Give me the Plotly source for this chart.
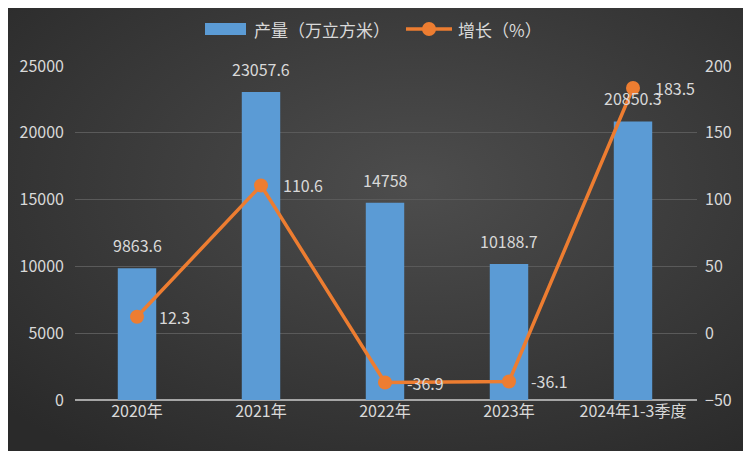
import plotly.graph_objects as go

categories = ["2020年", "2021年", "2022年", "2023年", "2024年1-3季度"]
output_vals = [9863.6, 23057.6, 14758, 10188.7, 20850.3]
growth_vals = [12.3, 110.6, -36.9, -36.1, 183.5]
bar_labels = ["9863.6", "23057.6", "14758", "10188.7", "20850.3"]
growth_labels = ["12.3", "110.6", "-36.9", "-36.1", "183.5"]
bar_name = "产量（万立方米）"
line_name = "增长（%）"

OFF = 8  # page body margin
W, H = 751 - OFF, 451 - OFF
ML, MR, MT, MB = 75 - OFF, 54, 66 - OFF, 51
pw, ph = W - ML - MR, H - MT - MB

def px(x):
    return (x - OFF - ML) / pw

def py(y):
    return 1 - (y - OFF - MT) / ph

txt_color = "#d9d9d9"
font_family = "Noto Sans CJK SC, Noto Sans, sans-serif"
bar_color = "#5b9bd5"
line_color = "#ed7d31"

fig = go.Figure()
fig.add_trace(go.Bar(
    x=categories, y=output_vals, name=bar_name,
    marker=dict(color=bar_color, line=dict(width=0)),
    width=0.31, yaxis="y", showlegend=False,
))
fig.add_trace(go.Scatter(
    x=categories, y=growth_vals, name=line_name, mode="lines+markers",
    line=dict(color=line_color, width=3.5),
    marker=dict(color=line_color, size=14),
    yaxis="y2", showlegend=False,
))

annotations = []
for c, v, t in zip(categories, output_vals, bar_labels):
    annotations.append(dict(x=c, y=v, xref="x", yref="y", text=t, showarrow=False,
                            yanchor="middle", yshift=23,
                            font=dict(size=16, color=txt_color, family=font_family)))
for c, v, t in zip(categories, growth_vals, growth_labels):
    annotations.append(dict(x=c, y=v, xref="x", yref="y2", text=t, showarrow=False,
                            xanchor="left", yanchor="middle", xshift=20,
                            font=dict(size=16, color=txt_color, family=font_family)))

# custom legend
annotations.append(dict(x=px(252), y=py(29), xref="paper", yref="paper", text=bar_name,
                        showarrow=False, xanchor="left", yanchor="middle",
                        font=dict(size=17, color=txt_color, family=font_family)))
annotations.append(dict(x=px(456), y=py(29), xref="paper", yref="paper", text=line_name,
                        showarrow=False, xanchor="left", yanchor="middle",
                        font=dict(size=17, color=txt_color, family=font_family)))
shapes = [
    dict(type="rect", xref="paper", yref="paper", x0=px(205), x1=px(246), y0=py(23), y1=py(35),
         fillcolor=bar_color, line=dict(width=0)),
    dict(type="line", xref="paper", yref="paper", x0=px(406), x1=px(452), y0=py(29), y1=py(29),
         line=dict(color=line_color, width=3.5)),
    dict(type="circle", xref="paper", yref="paper", x0=px(422), x1=px(436), y0=py(22), y1=py(36),
         fillcolor=line_color, line=dict(width=0)),
]

bg_svg = (
    "data:image/svg+xml;utf8,"
    "<svg xmlns='http://www.w3.org/2000/svg' width='751' height='451'>"
    "<defs><radialGradient id='g' cx='55%' cy='40%' r='75%'>"
    "<stop offset='0' stop-color='%234d4d4d'/><stop offset='1' stop-color='%232a2a2a'/>"
    "</radialGradient></defs><rect width='751' height='451' fill='url(%23g)'/></svg>"
)

fig.update_layout(
    width=W, height=H,
    margin=dict(l=ML, r=MR, t=MT, b=MB, autoexpand=False),
    paper_bgcolor="#363636", plot_bgcolor="rgba(0,0,0,0)",
    font=dict(family=font_family, color=txt_color, size=16),
    images=[dict(source=bg_svg, xref="paper", yref="paper",
                 x=-ML / pw, y=1 + MT / ph, sizex=W / pw, sizey=H / ph,
                 xanchor="left", yanchor="top", sizing="stretch", layer="below")],
    xaxis=dict(showgrid=False, showline=False, ticks="", automargin=False,
               tickfont=dict(size=16, color=txt_color)),
    yaxis=dict(range=[0, 25000], dtick=5000, tickformat="d", showgrid=True, gridcolor="#5a5a5a",
               gridwidth=1, zeroline=True, zerolinecolor="#a6a6a6", zerolinewidth=2,
               tickfont=dict(size=16, color=txt_color), ticks="", automargin=False,
               showline=False, ticklabelstandoff=10),
    yaxis2=dict(range=[-50, 200], dtick=50, overlaying="y", side="right",
                showgrid=False, zeroline=False, automargin=False,
                tickfont=dict(size=16, color=txt_color), ticklabelstandoff=7),
    annotations=annotations,
    shapes=shapes,
    showlegend=False,
)

fig.write_html("out.html")
